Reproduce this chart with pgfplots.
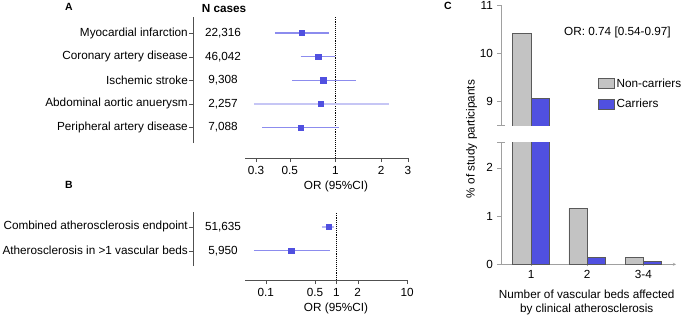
\documentclass[border=0pt]{standalone}
\usepackage{fontspec}
\setmainfont{Liberation Sans}
\usepackage{pgfplots}
\pgfplotsset{compat=1.18}
\definecolor{cblue}{HTML}{5050E0}
\definecolor{ciblue}{HTML}{8C8CEE}
\definecolor{cilight}{HTML}{C6C6F5}
\definecolor{cgray}{HTML}{C3C3C3}
\definecolor{cedge}{HTML}{5A5A5A}
\definecolor{axgray}{HTML}{505050}
\definecolor{caxgray}{HTML}{A0A0A0}
\pgfplotsset{
  every axis/.append style={tick label style={font=\fontsize{11.8}{14}\selectfont}},
  labelaxis/.style={scale only axis, width=50bp, xmin=0, xmax=1,
    axis x line=none, axis y line=left, axis line style={-,axgray},
    ytick style={axgray}, tick align=outside, major tick length=4bp,
    clip=false, yticklabel style={inner sep=1bp}},
  forest/.style={scale only axis, width=163bp,
    axis x line=bottom, axis y line=none, axis line style={-,axgray},
    xtick style={axgray}, tick align=outside, major tick length=4bp,
    clip=false},
  cax/.style={scale only axis, width=175bp, xmin=0.466, xmax=3.58,
    axis y line=left, axis line style={-,caxgray}, tick style={caxgray},
    tick align=outside, major tick length=4bp},
  ncbar/.style={ybar, bar width=18.3bp, bar shift=-9.15bp, fill=cgray, draw=cedge, line width=0.8bp,
    legend image code/.code={\draw[##1] (0bp,-5bp) rectangle (16bp,5bp);}},
  cbar/.style={ybar, bar width=18.3bp, bar shift=9.15bp, fill=cblue, draw=black!65, line width=0.8bp,
    legend image code/.code={\draw[##1] (0bp,-5bp) rectangle (16bp,5bp);}},
}
\begin{document}
\fontsize{11.8}{14}\selectfont
\begin{tikzpicture}[x=1bp,y=1bp]
\useasboundingbox (0,0) rectangle (685,318);

% ---------- Panel A ----------
\begin{axis}[labelaxis, at={(193bp,175bp)}, anchor=south west, height=126bp,
  ymin=0.343, ymax=5.68, ytick={1,2,3,4,5},
  yticklabels={Peripheral artery disease, Abdominal aortic anuerysm, Ischemic stroke, Coronary artery disease, Myocardial infarction}]
  \node at (axis cs:0.6,5) {22,316};
  \node at (axis cs:0.6,4) {46,042};
  \node at (axis cs:0.6,3) {9,308};
  \node at (axis cs:0.6,2) {2,257};
  \node at (axis cs:0.6,1) {7,088};
  \node[font=\fontsize{11.8}{14}\selectfont\bfseries] at (axis cs:0.62,6.06) {N cases};
\end{axis}

\begin{semilogxaxis}[forest, at={(245bp,160bp)}, anchor=south west, height=141bp,
  xmin=0.254, xmax=3, ymin=-0.29, ymax=5.68, minor xtick={},
  xtick={0.3,0.5,1,2,3}, xticklabels={0.3,0.5,1,2,3}]
  \draw[densely dotted, black, line width=0.9bp] (axis cs:1,-0.29) -- (axis cs:1,5.68);
  \addplot[ciblue, line width=1.2bp] coordinates {(0.40,5) (0.90,5)};
  \addplot[ciblue, line width=1.2bp] coordinates {(0.59,4) (0.99,4)};
  \addplot[ciblue, line width=1.2bp] coordinates {(0.52,3) (1.37,3)};
  \addplot[cilight, line width=2bp] coordinates {(0.29,2) (2.24,2)};
  \addplot[ciblue, line width=1.2bp] coordinates {(0.33,1) (1.05,1)};
  \addplot[only marks, mark=square*, mark size=2.6bp, cblue] coordinates {(0.60,5) (0.77,4) (0.83,3) (0.80,2) (0.59,1)};
\end{semilogxaxis}

% ---------- Panel B ----------
\begin{axis}[labelaxis, at={(193bp,52bp)}, anchor=south west, height=54bp,
  ymin=0.3625, ymax=2.61, ytick={1,2},
  yticklabels={Atherosclerosis in >1 vascular beds, Combined atherosclerosis endpoint}]
  \node at (axis cs:0.6,2) {51,635};
  \node at (axis cs:0.6,1) {5,950};
\end{axis}

\begin{semilogxaxis}[forest, at={(245bp,38bp)}, anchor=south west, height=68bp,
  xmin=0.051, xmax=10.3, ymin=-0.22, ymax=2.61, minor xtick={},
  xtick={0.1,0.5,1,2,10}, xticklabels={0.1,0.5,1,2,10}]
  \draw[densely dotted, black, line width=0.9bp] (axis cs:1,-0.22) -- (axis cs:1,2.61);
  \addplot[cilight!80!ciblue, line width=2bp] coordinates {(0.63,2) (0.92,2)};
  \addplot[ciblue, line width=1.2bp] coordinates {(0.068,1) (0.80,1)};
  \addplot[only marks, mark=square*, mark size=2.6bp, cblue] coordinates {(0.78,2) (0.23,1)};
\end{semilogxaxis}

% ---------- Panel C ----------
% upper segment (extends slightly below the break; the extra strip is masked)
\begin{axis}[cax, at={(501bp,182.6bp)}, anchor=south west, height=130.4bp,
  ymin=8.3, ymax=11, ytick={9,10,11}, yticklabels={9,10,11}, axis x line=none,
  legend style={at={(0.535,0.468)}, anchor=north west, draw=none, fill=none,
    row sep=6bp, font=\fontsize{11.8}{14}\selectfont},
  legend cell align=left]
  \addplot[ncbar] coordinates {(1,10.42) (2,1.16) (3,0.15)};
  \addplot[cbar] coordinates {(1,9.07) (2,0.145) (3,0.05)};
  \legend{Non-carriers, Carriers}
\end{axis}
\fill[white] (480,180) rectangle (685,192.3);

\begin{axis}[cax, at={(501bp,53.7bp)}, anchor=south west, height=121.6bp,
  ymin=0, ymax=2.52, ytick={0,1,2}, yticklabels={0,1,2},
  axis x line=bottom, xtick={1,2,3}, xticklabels={1,2,3-4}]
  \addplot[ncbar] coordinates {(1,10.42) (2,1.16) (3,0.15)};
  \addplot[cbar] coordinates {(1,9.07) (2,0.145) (3,0.05)};
\end{axis}

% axis break caps
\draw[caxgray, line width=0.8bp] (497,192.3) -- (505,192.3);
\draw[caxgray, line width=0.8bp] (497,175.3) -- (505,175.3);

% ---------- Texts ----------
\node[font=\fontsize{10.5}{12}\selectfont\bfseries] at (69,311) {A};
\node[font=\fontsize{10.5}{12}\selectfont\bfseries] at (69,133) {B};
\node[font=\fontsize{10.5}{12}\selectfont\bfseries] at (448,312) {C};
\node at (336,132) {OR (95\%CI)};
\node at (336,10) {OR (95\%CI)};
\node at (617.5,285.7) {OR: 0.74 [0.54-0.97]};
\node[rotate=90] at (471.7,179) {\% of study participants};
\node[align=center] at (586.7,16) {Number of vascular beds affected\\by clinical atherosclerosis};
\end{tikzpicture}
\end{document}
